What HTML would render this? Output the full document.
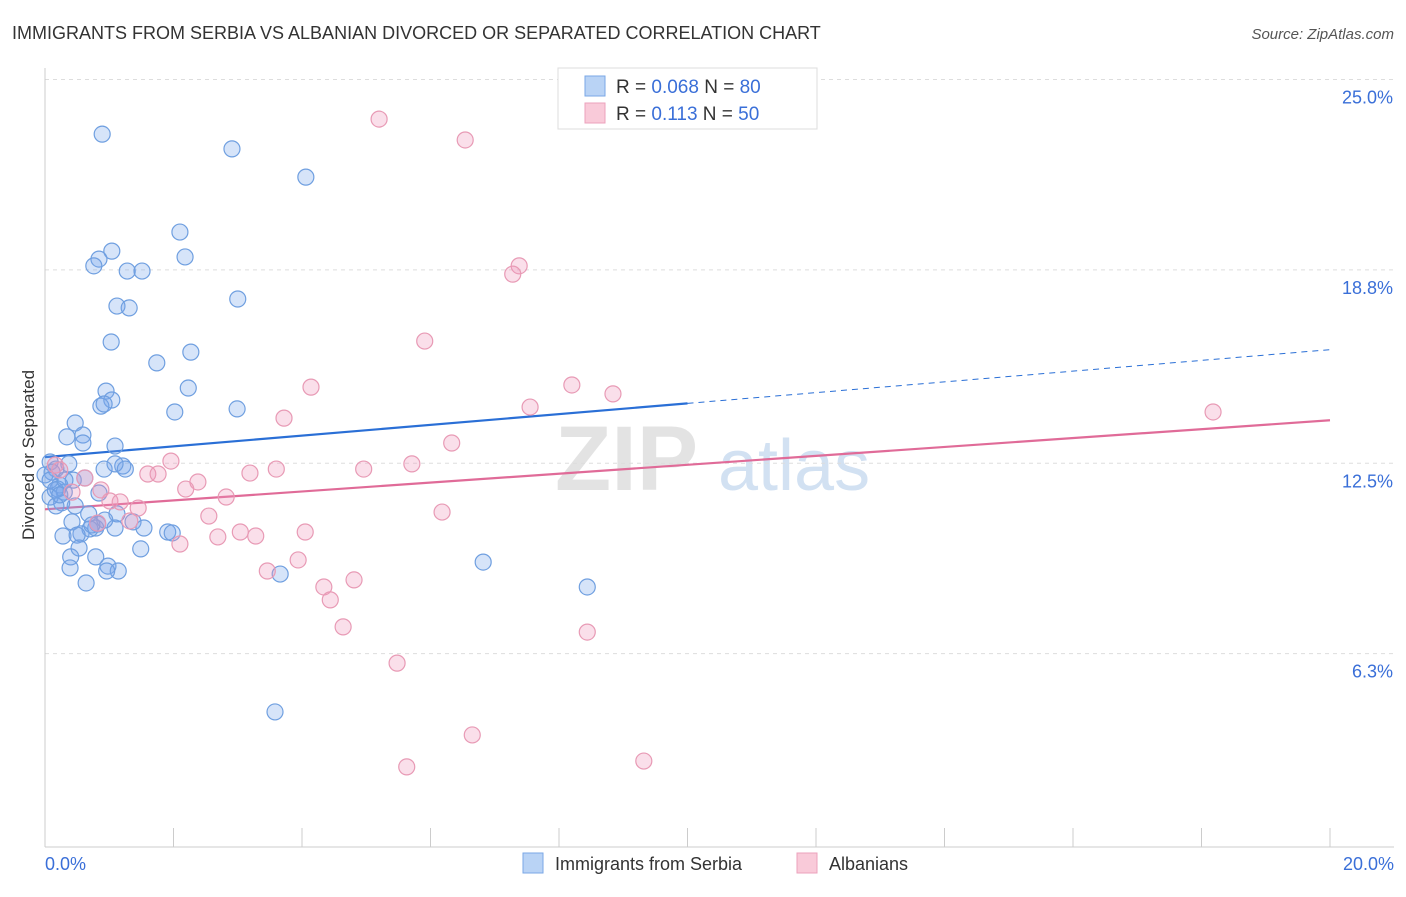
<!DOCTYPE html>
<html><head><meta charset="utf-8"><style>
body{margin:0;background:#fff;font-family:"Liberation Sans",sans-serif;}
svg text{font-family:"Liberation Sans",sans-serif;}
</style></head><body>
<svg id="chart" width="1406" height="892">
<text x="12" y="39" font-size="18" fill="#333">IMMIGRANTS FROM SERBIA VS ALBANIAN DIVORCED OR SEPARATED CORRELATION CHART</text>
<text x="1394" y="39" font-size="15" fill="#555" font-style="italic" text-anchor="end">Source: ZipAtlas.com</text>
<text x="0" y="0" transform="translate(34,455) rotate(-90)" font-size="17" fill="#333" text-anchor="middle">Divorced or Separated</text>
<g><text x="555" y="490" font-size="92" fill="#ddd" font-family="Liberation Serif" font-weight="bold" opacity="0.8">ZIP</text><text x="718" y="490" font-size="72" fill="#c8daf0" opacity="0.8">atlas</text></g>
<g id="grid"></g><g id="axes"></g><g id="trends"></g><g id="pts"></g>
<g>
<rect x="558" y="68" width="259" height="61" fill="#fff" stroke="#ddd"/>
<rect x="585" y="76" width="20" height="20" fill="#b9d3f5" stroke="#7aa7e6"/>
<rect x="585" y="103" width="20" height="20" fill="#f9cad9" stroke="#eca2bc"/>
<text x="616" y="93" font-size="19" fill="#333">R = <tspan fill="#3a6fd8">0.068</tspan>   N = <tspan fill="#3a6fd8">80</tspan></text>
<text x="616" y="120" font-size="19" fill="#333">R =   <tspan fill="#3a6fd8">0.113</tspan>   N = <tspan fill="#3a6fd8">50</tspan></text>
</g>
<g>
<rect x="523" y="853" width="20" height="20" fill="#b9d3f5" stroke="#7aa7e6"/>
<text x="555" y="870" font-size="18" fill="#333">Immigrants from Serbia</text>
<rect x="797" y="853" width="20" height="20" fill="#f9cad9" stroke="#eca2bc"/>
<text x="829" y="870" font-size="18" fill="#333">Albanians</text>
</g>
</svg>
<script>
const yTicks=[25.0,18.8,12.5,6.3];
const yTickLabels=["25.0%","18.8%","12.5%","6.3%"];
const xEndLabels=["0.0%","20.0%"];
const blueX=[0.89,2.91,4.06,2.10,2.18,1.04,0.84,0.76,1.28,1.51,3.00,1.12,1.31,1.03,1.74,2.27,0.95,2.23,1.04,0.87,0.92,2.02,2.99,0.47,0.34,0.59,0.59,1.09,0.08,0.37,0.17,1.21,0.92,1.25,1.09,0.11,0.44,0.62,0.23,0.20,0.30,0.84,0.08,0.47,0.26,0.17,0.68,1.12,0.42,1.37,0.82,1.54,0.79,0.70,1.91,1.98,0.56,0.28,0.50,0.53,1.49,0.40,0.79,0.39,0.98,1.14,0.96,0.64,3.66,6.82,8.44,3.58,0.0,0.08,0.16,0.23,0.31,0.73,1.09,0.93];
const blueY=[23.22,22.74,21.82,20.03,19.22,19.41,19.15,18.93,18.76,18.76,17.85,17.62,17.56,16.45,15.77,16.12,14.85,14.95,14.56,14.36,14.43,14.17,14.27,13.81,13.36,13.42,13.16,13.06,12.54,12.48,12.31,12.41,12.31,12.31,12.48,12.21,11.95,12.02,11.79,11.66,11.56,11.53,11.40,11.11,11.21,11.11,10.85,10.85,10.59,10.59,10.52,10.39,10.39,10.36,10.26,10.23,10.20,10.13,10.16,9.74,9.71,9.45,9.45,9.09,9.15,8.99,8.99,8.60,8.89,9.28,8.47,4.40,12.12,11.95,11.63,11.47,11.95,10.49,10.39,10.65];
const pinkX=[5.20,6.54,7.38,7.28,5.91,4.14,8.20,8.84,7.55,3.72,6.33,1.96,5.71,3.60,3.19,1.60,1.76,4.96,0.16,0.62,2.38,2.19,0.42,0.87,2.82,1.01,1.17,1.45,2.55,6.18,1.32,0.82,4.05,3.04,3.28,2.69,2.10,3.94,3.46,4.34,4.81,4.44,4.64,8.44,5.48,6.65,5.63,9.32,18.18,0.23];
const pinkY=[23.71,23.03,18.93,18.66,16.48,14.98,15.05,14.76,14.33,13.97,13.16,12.57,12.48,12.31,12.18,12.15,12.15,12.31,12.44,12.02,11.89,11.66,11.56,11.63,11.40,11.27,11.24,11.04,10.78,10.91,10.62,10.55,10.26,10.26,10.13,10.10,9.87,9.35,8.99,8.47,8.70,8.05,7.17,7.00,5.99,3.65,2.61,2.80,14.17,12.28];
const blueTrend=[12.7,16.2];
const pinkTrend=[11.0,13.9];
const NS="http://www.w3.org/2000/svg";
const X=v=>45+v*64.25, Y=v=>847-v*30.7;
function mk(tag,attrs,parent){const e=document.createElementNS(NS,tag);for(const k in attrs)e.setAttribute(k,attrs[k]);document.getElementById(parent).appendChild(e);return e;}
yTicks.forEach((t,i)=>{
 const g=mk('line',{x1:45,x2:1394,y1:Y(t),y2:Y(t),stroke:'#ddd','stroke-dasharray':'4,4'},'grid');
 
 
 const l=mk('text',{x:1393,y:Y(t)+24,'font-size':18,fill:'#3a6fd8','text-anchor':'end'},'axes');
 l.textContent=yTickLabels[i];
 
 
});
const xa=mk('line',{x1:45,x2:1394,y1:847,y2:847,stroke:'#ccc'},'axes');


const ya=mk('line',{x1:45,x2:45,y1:68,y2:847,stroke:'#ccc'},'axes');


for(let i=0;i<=10;i++){
 const t=mk('line',{x1:X(i*2),x2:X(i*2),y1:828,y2:847,stroke:'#ccc'},'axes');
 
 
}
[[0,'start',45],[20,'end',1394]].forEach((d,i)=>{
 const l=mk('text',{x:d[2],y:870,'font-size':18,fill:'#3a6fd8','text-anchor':d[1]},'axes');
 l.textContent=xEndLabels[i];
 
 
});
function pts(xs,ys,fill,stroke,name){xs.forEach((x,i)=>{
 const c=mk('circle',{cx:X(x),cy:Y(ys[i]),r:8,fill:fill,stroke:stroke,'stroke-width':1.2},'pts');
 
 
});}
pts(blueX,blueY,'rgba(120,165,235,0.3)','#6f9fe0','serbia-point');
pts(pinkX,pinkY,'rgba(240,150,185,0.3)','#e89ab5','albanian-point');
const bmid=blueTrend[0]+(blueTrend[1]-blueTrend[0])*0.5;
const b1=mk('line',{x1:X(0),y1:Y(blueTrend[0]),x2:X(10),y2:Y(bmid),stroke:'#2a6fd6','stroke-width':2.2},'trends');


const b2=mk('line',{x1:X(10),y1:Y(bmid),x2:X(20),y2:Y(blueTrend[1]),stroke:'#2a6fd6','stroke-width':1,'stroke-dasharray':'6,5'},'trends');


const p1=mk('line',{x1:X(0),y1:Y(pinkTrend[0]),x2:X(20),y2:Y(pinkTrend[1]),stroke:'#e06b98','stroke-width':2.2},'trends');


</script>
</body></html>
